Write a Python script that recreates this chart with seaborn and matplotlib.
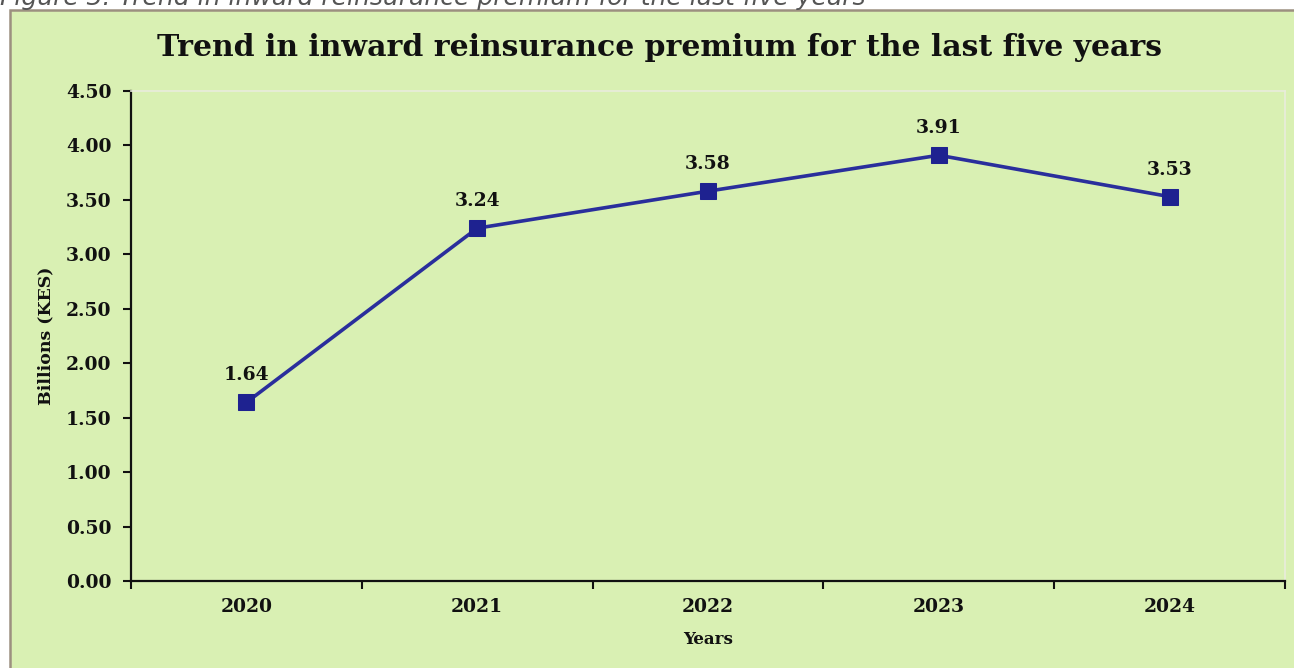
import numpy as np
import pandas as pd
import seaborn as sns
import matplotlib.pyplot as plt
from matplotlib.patches import Rectangle
from matplotlib.ticker import FixedLocator, NullFormatter

# --------------------------------------------------#
# Data
# --------------------------------------------------#

years = ["2020", "2021", "2022", "2023", "2024"]
premium = [1.64, 3.24, 3.58, 3.91, 3.53]
y_ticks = [0.0, 0.5, 1.0, 1.5, 2.0, 2.5, 3.0, 3.5, 4.0, 4.5]

df = pd.DataFrame({"year": years, "pos": np.arange(len(years)), "premium": premium})

# --------------------------------------------------#
# Style
# --------------------------------------------------#

sns.set_theme(style="white")
plt.rcParams["font.family"] = ["DejaVu Serif"]

bg = "#d9f0b3"
col_line = "#2a2e9c"
col_mark = "#1e2290"
ink = "#111111"

fig = plt.figure(figsize=(12.94, 6.68), dpi=100)
fig.patch.set_facecolor("white")

# green panel with border (behind the axes)
box = Rectangle((10 / 1294, -0.01), 1.02, 1 - 10 / 668 + 0.01, transform=fig.transFigure,
                facecolor=bg, edgecolor="#9c9080", linewidth=1.8, zorder=-5)
fig.patches.append(box)

# caption cut off at the top, as in the scan
fig.text(0.0, 1 - 5 / 668, "Figure 3: Trend in inward reinsurance premium for the last five years",
         family=["DejaVu Sans"], style="italic", fontsize=18, color="#555555",
         ha="left", va="baseline")

ax = fig.add_axes([131 / 1294, 87 / 668, (1285 - 131) / 1294, (581 - 91) / 668])
ax.set_facecolor(bg)
ax.set_zorder(1)

sns.lineplot(data=df, x="pos", y="premium", ax=ax, color=col_line, linewidth=2.6,
             marker="s", markersize=12, markerfacecolor=col_mark, markeredgecolor=col_mark,
             estimator=None, errorbar=None)

for p, v in zip(df["pos"], df["premium"]):
    ax.annotate(f"{v:.2f}", (p, v), xytext=(0, 13), textcoords="offset points",
                ha="center", va="bottom", fontsize=13.5, fontweight="bold", color=ink)

ax.set_xlim(-0.5, len(years) - 0.5)
ax.set_ylim(0, 4.5)
ax.set_yticks(y_ticks)
ax.set_yticklabels([f"{t:.2f}" for t in y_ticks], fontsize=13.5, fontweight="bold", color=ink)

ax.xaxis.set_major_locator(FixedLocator(np.arange(-0.5, len(years), 1.0)))
ax.xaxis.set_major_formatter(NullFormatter())
ax.xaxis.set_minor_locator(FixedLocator(df["pos"].values))
ax.set_xticklabels(years, minor=True, fontsize=13.5, fontweight="bold", color=ink)
ax.tick_params(axis="x", which="major", direction="out", length=6, width=1.5, color=ink, bottom=True)
ax.tick_params(axis="x", which="minor", length=0, pad=12)
ax.tick_params(axis="y", direction="out", length=6, width=1.5, color=ink, left=True, pad=8)

for side in ["left", "bottom"]:
    ax.spines[side].set_color(ink)
    ax.spines[side].set_linewidth(1.6)
for side in ["top", "right"]:
    ax.spines[side].set_color("#e9ecdc")
    ax.spines[side].set_linewidth(1.2)

ax.set_xlabel("Years", fontsize=12, fontweight="bold", color=ink, labelpad=11)
ax.set_ylabel("Billions (KES)", fontsize=12.5, fontweight="bold", color=ink, labelpad=8)

fig.text(660 / 1294, 1 - 48 / 668, "Trend in inward reinsurance premium for the last five years",
         ha="center", va="center", fontsize=21.5, fontweight="bold", color=ink)

fig.savefig("out.png", dpi=100, facecolor=fig.get_facecolor())
